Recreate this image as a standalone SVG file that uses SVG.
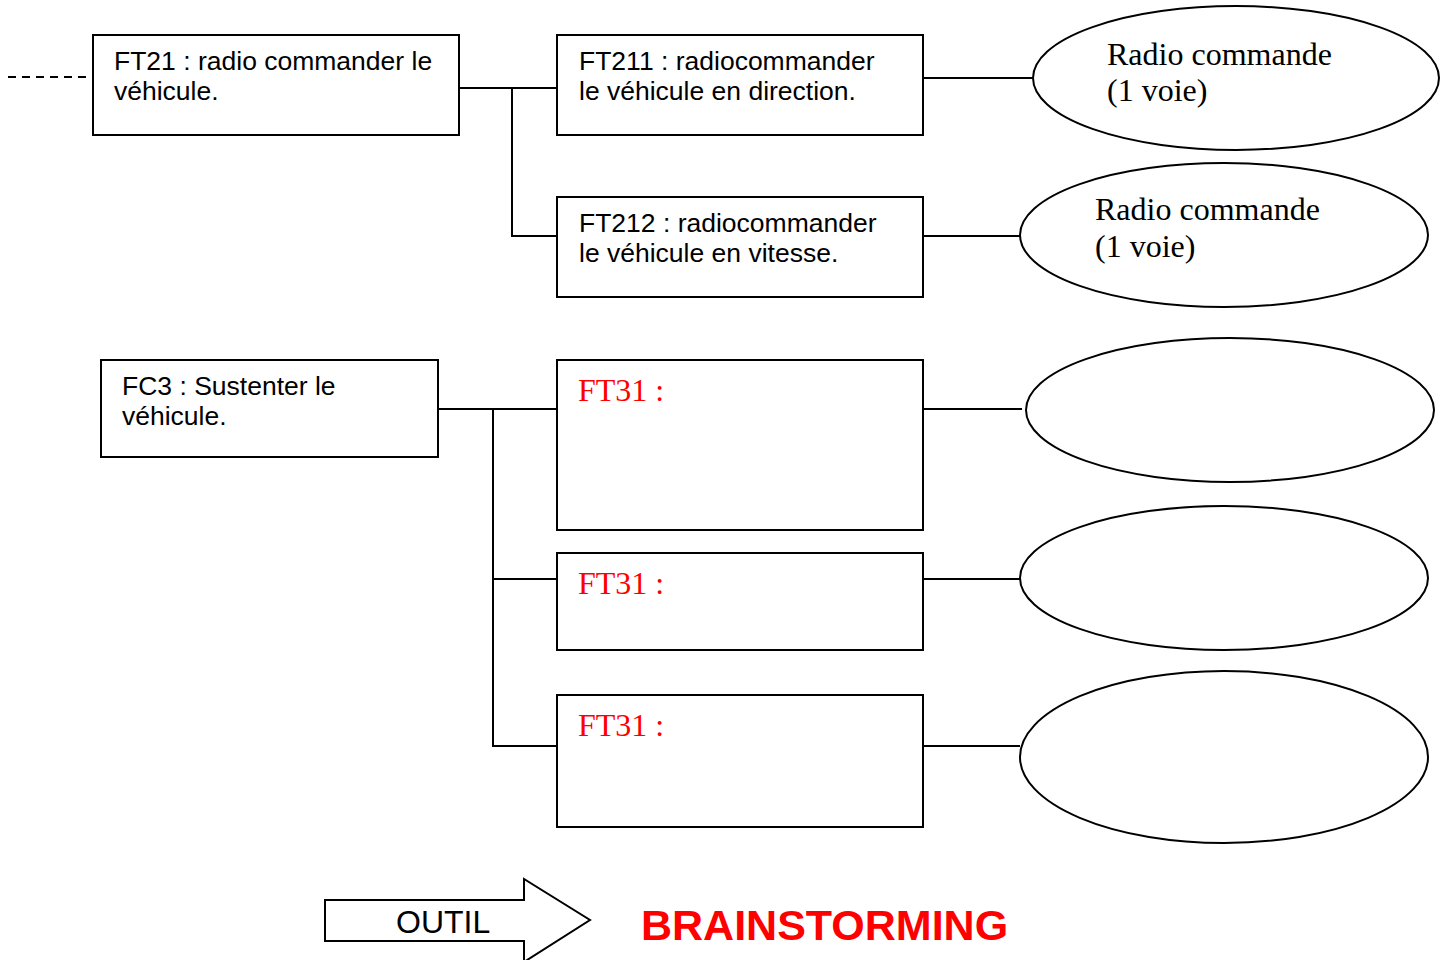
<svg xmlns="http://www.w3.org/2000/svg" width="1452" height="960" viewBox="0 0 1452 960">
  <style>
    .box { fill: #ffffff; stroke: #000000; stroke-width: 2; }
    .oval { fill: #ffffff; stroke: #000000; stroke-width: 2; }
    .wire { fill: none; stroke: #000000; stroke-width: 2; }
    .sans { font-family: "Liberation Sans", Arial, sans-serif; font-size: 26.5px; fill: #000000; }
    .serif { font-family: "Liberation Serif", "Times New Roman", serif; font-size: 32px; fill: #000000; }
    .red { fill: #ff0000; }
  </style>
  <rect width="1452" height="960" fill="#ffffff"/>

  <!-- connectors -->
  <g id="connectors">
    <line class="wire" x1="8" y1="77" x2="90" y2="77" stroke-dasharray="8,6"/>
    <polyline class="wire" points="459,88 557,88"/>
    <polyline class="wire" points="512,88 512,236 557,236"/>
    <line class="wire" x1="923" y1="78" x2="1033" y2="78"/>
    <line class="wire" x1="923" y1="236" x2="1020" y2="236"/>
    <polyline class="wire" points="438,409 557,409"/>
    <polyline class="wire" points="493,409 493,746 557,746"/>
    <line class="wire" x1="493" y1="579" x2="557" y2="579"/>
    <line class="wire" x1="923" y1="409" x2="1022" y2="409"/>
    <line class="wire" x1="923" y1="579" x2="1020" y2="579"/>
    <line class="wire" x1="923" y1="746" x2="1020" y2="746"/>
  </g>

  <!-- FT21 -->
  <g id="ft21">
    <rect class="box" x="93" y="35" width="366" height="100"/>
    <text class="sans" x="114" y="70">FT21 : radio commander le</text>
    <text class="sans" x="114" y="100">véhicule.</text>
  </g>

  <!-- FT211 -->
  <g id="ft211">
    <rect class="box" x="557" y="35" width="366" height="100"/>
    <text class="sans" x="579" y="70">FT211 : radiocommander</text>
    <text class="sans" x="579" y="100">le véhicule en direction.</text>
  </g>

  <!-- FT212 -->
  <g id="ft212">
    <rect class="box" x="557" y="197" width="366" height="100"/>
    <text class="sans" x="579" y="232">FT212 : radiocommander</text>
    <text class="sans" x="579" y="262">le véhicule en vitesse.</text>
  </g>

  <!-- solution ovals for FT21x -->
  <g id="sol211">
    <ellipse class="oval" cx="1236" cy="78" rx="203" ry="72"/>
    <text class="serif" x="1107" y="65">Radio commande</text>
    <text class="serif" x="1107" y="101">(1 voie)</text>
  </g>
  <g id="sol212">
    <ellipse class="oval" cx="1224" cy="235" rx="204" ry="72"/>
    <text class="serif" x="1095" y="220">Radio commande</text>
    <text class="serif" x="1095" y="257">(1 voie)</text>
  </g>

  <!-- FC3 -->
  <g id="fc3">
    <rect class="box" x="101" y="360" width="337" height="97"/>
    <text class="sans" x="122" y="395">FC3 : Sustenter le</text>
    <text class="sans" x="122" y="425">véhicule.</text>
  </g>

  <!-- FT31 boxes -->
  <g id="ft31a">
    <rect class="box" x="557" y="360" width="366" height="170"/>
    <text class="serif red" x="578" y="401">FT31 :</text>
  </g>
  <g id="ft31b">
    <rect class="box" x="557" y="553" width="366" height="97"/>
    <text class="serif red" x="578" y="594">FT31 :</text>
  </g>
  <g id="ft31c">
    <rect class="box" x="557" y="695" width="366" height="132"/>
    <text class="serif red" x="578" y="736">FT31 :</text>
  </g>

  <!-- empty solution ovals -->
  <g id="sol31a"><ellipse class="oval" cx="1230" cy="410" rx="204" ry="72"/></g>
  <g id="sol31b"><ellipse class="oval" cx="1224" cy="578" rx="204" ry="72"/></g>
  <g id="sol31c"><ellipse class="oval" cx="1224" cy="757" rx="204" ry="86"/></g>

  <!-- tool arrow -->
  <g id="outil">
    <polygon class="box" points="325,900 524,900 524,879 590,920 524,962 524,941 325,941"/>
    <text class="sans" x="396" y="933" style="font-size:32px">OUTIL</text>
  </g>
  <g id="brainstorming">
    <text x="641" y="940" font-family="'Liberation Sans', Arial, sans-serif" font-size="43" font-weight="bold" fill="#ff0000">BRAINSTORMING</text>
  </g>
</svg>
